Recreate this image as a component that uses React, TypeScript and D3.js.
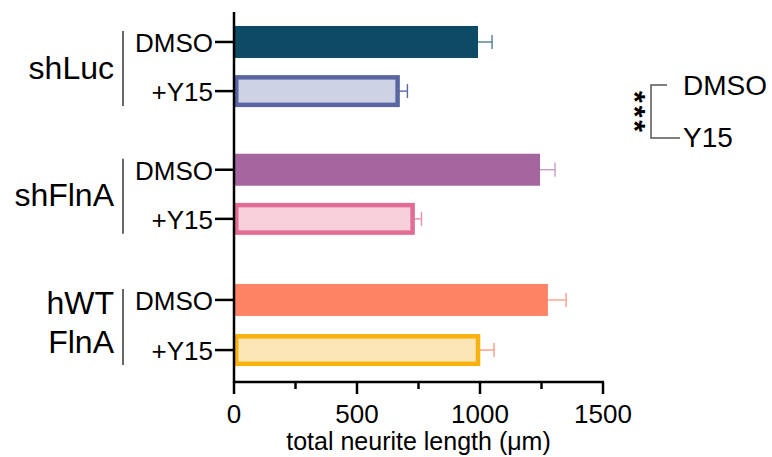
import React, { useEffect, useRef } from 'react';
import * as d3 from 'd3';

const groups = ['shLuc', 'shFlnA', 'hWT\nFlnA'];
const treatments = ['DMSO', '+Y15'];
const rowPos = [0, 1, 2.6, 3.6, 5.25, 6.27];
const means = [992, 665, 1244, 726, 1276, 992];
const errs = [57, 40, 61, 36, 74, 65];
const fills = ['#0c4a66', '#cdd2e4', '#a5669f', '#f7d0dc', '#fe8365', '#fde6b6'];
const strokes = ['none', '#5a66a1', 'none', '#e26c96', 'none', '#f8b10d'];
const errColors = ['#4d7f94', '#5a66a1', '#c79cc3', '#e88fae', '#fca08b', '#f39a86'];
const xTicks = [0, 500, 1000, 1500];
const xMinor = [250, 750, 1250];
const legendLabels = ['DMSO', 'Y15'];
const signif = '***';

const App = () => {
  const ref = useRef<SVGSVGElement>(null);

  useEffect(() => {
    const svg = d3.select(ref.current);
    svg.selectAll('*').remove();
    const font = 'Liberation Sans, Arial, sans-serif';

    const x = d3.scaleLinear().domain([0, 1500]).range([234, 603]);
    const y = d3.scaleLinear().domain([-0.61, 6.92]).range([12, 382]);
    const barH = 32;

    const rows = means.map((m, i) => ({
      m, e: errs[i], pos: rowPos[i], label: treatments[i % 2],
      fill: fills[i], stroke: strokes[i], ec: errColors[i],
    }));

    // error bars (behind bars)
    rows.forEach((d) => {
      const g = svg.append('g').attr('stroke', d.ec).attr('stroke-width', 1.4);
      g.append('line').attr('x1', x(d.m)).attr('x2', x(d.m + d.e))
        .attr('y1', y(d.pos)).attr('y2', y(d.pos));
      g.append('line').attr('x1', x(d.m + d.e)).attr('x2', x(d.m + d.e))
        .attr('y1', y(d.pos) - 7).attr('y2', y(d.pos) + 7);
    });

    // bars
    rows.forEach((d) => {
      const sw = d.stroke === 'none' ? 0 : 4.5;
      svg.append('rect')
        .attr('x', x(0) + sw / 2)
        .attr('y', y(d.pos) - barH / 2 + sw / 2)
        .attr('width', x(d.m) - x(0) - sw / 2)
        .attr('height', barH - sw)
        .attr('fill', d.fill)
        .attr('stroke', d.stroke)
        .attr('stroke-width', sw);
    });

    // axes
    svg.append('line').attr('x1', x(0)).attr('x2', x(0)).attr('y1', 12).attr('y2', 383)
      .attr('stroke', '#000').attr('stroke-width', 2.5);
    svg.append('line').attr('x1', x(0) - 1).attr('x2', x(1500) + 1).attr('y1', 382).attr('y2', 382)
      .attr('stroke', '#000').attr('stroke-width', 2.5);

    xTicks.forEach((t) => {
      svg.append('line').attr('x1', x(t)).attr('x2', x(t)).attr('y1', 382).attr('y2', 394)
        .attr('stroke', '#000').attr('stroke-width', 2.5);
      svg.append('text').attr('x', x(t)).attr('y', 423).attr('text-anchor', 'middle')
        .attr('font-family', font).attr('font-size', 26).text(t);
    });
    xMinor.forEach((t) => {
      svg.append('line').attr('x1', x(t)).attr('x2', x(t)).attr('y1', 382).attr('y2', 389)
        .attr('stroke', '#000').attr('stroke-width', 2.5);
    });
    svg.append('text').attr('x', x(750)).attr('y', 450).attr('text-anchor', 'middle')
      .attr('font-family', font).attr('font-size', 25).text('total neurite length (μm)');

    // y ticks and labels
    rows.forEach((d) => {
      svg.append('line').attr('x1', x(0) - 19).attr('x2', x(0)).attr('y1', y(d.pos)).attr('y2', y(d.pos))
        .attr('stroke', '#000').attr('stroke-width', 2.5);
      svg.append('text').attr('x', x(0) - 21).attr('y', y(d.pos) + 10).attr('text-anchor', 'end')
        .attr('font-family', font).attr('font-size', 26).text(d.label);
    });

    // group labels
    groups.forEach((gName, gi) => {
      const p0 = rowPos[gi * 2];
      const p1 = rowPos[gi * 2 + 1];
      svg.append('line').attr('x1', 123).attr('x2', 123)
        .attr('y1', y(p0) - 11).attr('y2', y(p1) + 15)
        .attr('stroke', '#333').attr('stroke-width', 1.5);
      const lines = gName.split('\n');
      const mid = y((p0 + p1) / 2);
      lines.forEach((ln, li) => {
        const yy = lines.length === 1 ? mid + 12 : (li === 0 ? y(p0) + 14 : y(p1) + 3);
        svg.append('text').attr('x', 114).attr('y', yy)
          .attr('text-anchor', 'end').attr('font-family', font).attr('font-size', 32).text(ln);
      });
    });

    // legend / significance bracket
    const lg = svg.append('g').attr('stroke', '#555').attr('stroke-width', 1.5).attr('fill', 'none');
    lg.append('path').attr('d', 'M667,85 H651 V138 H680');
    legendLabels.forEach((l, i) => {
      svg.append('text').attr('x', 683).attr('y', i === 0 ? 95 : 147)
        .attr('font-family', font).attr('font-size', 28).text(l);
    });
    svg.append('text').attr('transform', 'translate(625,113) rotate(90)')
      .attr('text-anchor', 'middle').attr('font-family', font).attr('font-size', 30)
      .attr('letter-spacing', 3).attr('font-weight', 'bold').text(signif);
  }, []);

  return <svg ref={ref} width={772} height={457} style={{ position: 'absolute', left: 0, top: 0 }} />;
};

export default App;
